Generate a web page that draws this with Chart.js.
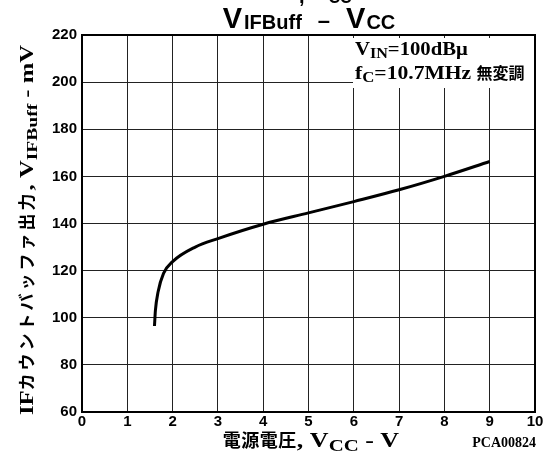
<!DOCTYPE html>
<html>
<head>
<meta charset="utf-8">
<script src="https://cdn.jsdelivr.net/npm/chart.js@4.4.1/dist/chart.umd.min.js"></script>
<style>
  html, body { margin: 0; padding: 0; background: #fff; }
  #chart { display: block; }
</style>
</head>
<body>
<canvas id="chart" width="551" height="457"></canvas>
<script>
// ── DATA ──────────────────────────────────────────────────────────────────────
const vccVolts   = [1.6, 1.62, 1.68, 1.8, 2.0, 2.5, 3.0, 4.0, 5.0, 6.0, 7.0, 8.0, 9.0];
const vifBuffMv  = [96.5, 103, 111, 118.8, 123.8, 130, 133.6, 139.7, 144.5, 149.3, 154.3, 160, 166.3];
const xTicks     = [0, 1, 2, 3, 4, 5, 6, 7, 8, 9, 10];
const yTicks     = [60, 80, 100, 120, 140, 160, 180, 200, 220];

// ── FONTS ─────────────────────────────────────────────────────────────────────
const SANS  = '"Liberation Sans", Arial, sans-serif';
const SERIF = '"Liberation Serif", "Noto Sans CJK JP", serif';
const JP    = '"Noto Sans CJK JP", sans-serif';

// width of one piece: sx stretches it, track spaces its characters
function partWidth(ctx, p) {
  ctx.font = p.font;
  const sx = p.sx || 1;
  if (p.track) {
    return [...p.t].reduce((w, c) => w + ctx.measureText(c).width * sx + p.track, 0);
  }
  return ctx.measureText(p.t).width * sx;
}

// draw a run of text pieces with their own fonts and baseline shifts
function richText(ctx, parts, x, y, align) {
  let total = 0;
  parts.forEach(p => { total += partWidth(ctx, p) + (p.gap || 0); });
  let cx = align === 'center' ? x - total / 2 : align === 'right' ? x - total : x;
  ctx.textAlign = 'left';
  ctx.textBaseline = 'alphabetic';
  parts.forEach(p => {
    ctx.font = p.font;
    const sx = p.sx || 1;
    const chars = p.track ? [...p.t] : [p.t];
    chars.forEach(c => {
      ctx.save();
      ctx.translate(cx, y + (p.dy || 0));
      ctx.scale(sx, 1);
      ctx.fillText(c, 0, 0);
      ctx.restore();
      cx += ctx.measureText(c).width * sx + (p.track || 0);
    });
    cx += p.gap || 0;
  });
}

// ── TEXT + FRAME PLUGIN ───────────────────────────────────────────────────────
const decorations = {
  id: 'decorations',
  beforeDatasetsDraw(chart) {
    const ctx = chart.ctx;
    ctx.save();
    // label box over the grid in the upper right
    ctx.fillStyle = '#fff';
    ctx.fillRect(353, 38, 181, 50);
    ctx.fillStyle = '#000';
    richText(ctx, [
      { t: 'V', font: `bold 18px ${SERIF}`, sx: 1.15 },
      { t: 'IN', font: `bold 14px ${SERIF}`, sx: 1.15, dy: 3 },
      { t: '=100dBμ', font: `bold 18px ${SERIF}`, sx: 1.15 }
    ], 355, 55, 'left');
    richText(ctx, [
      { t: 'f', font: `bold 18px ${SERIF}`, sx: 1.2 },
      { t: 'C', font: `bold 14px ${SERIF}`, sx: 1.2, dy: 3 },
      { t: '=10.7MHz ', font: `bold 18px ${SERIF}`, sx: 1.2 },
      { t: '無変調', font: `bold 16px ${JP}` }
    ], 355, 79, 'left');
    ctx.restore();
  },
  afterDraw(chart) {
    const ctx = chart.ctx;
    const a = chart.chartArea;
    ctx.save();
    ctx.strokeStyle = '#000';
    ctx.lineWidth = 2;
    ctx.strokeRect(a.left, a.top, a.right - a.left, a.bottom - a.top);
    ctx.fillStyle = '#000';

    // clipped line left over at the very top
    richText(ctx, [
      { t: ',', font: `bold 20px ${SANS}`, gap: 24 },
      { t: 'CC', font: `bold 16px ${SANS}` }
    ], 299, 3, 'left');

    // title
    richText(ctx, [
      { t: 'V', font: `bold 29px ${SANS}`, gap: 2 },
      { t: 'IFBuff', font: `bold 20px ${SANS}`, dy: 1, gap: 16 },
      { t: '–', font: `bold 22px ${SANS}`, gap: 16 },
      { t: 'V', font: `bold 29px ${SANS}`, gap: 1 },
      { t: 'CC', font: `bold 20px ${SANS}`, dy: 1 }
    ], 309, 28, 'center');

    // x axis title
    richText(ctx, [
      { t: '電源電圧', font: `bold 18px ${JP}`, track: 0.5 },
      { t: ', V', font: `bold 20px ${SERIF}`, sx: 1.3 },
      { t: 'CC', font: `bold 16px ${SERIF}`, sx: 1.3, dy: 4 },
      { t: ' - V', font: `bold 20px ${SERIF}`, sx: 1.3 }
    ], 311, 447, 'center');

    richText(ctx, [
      { t: 'PCA00824', font: `bold 14px ${SERIF}` }
    ], 536, 447, 'right');

    // y axis title
    ctx.translate(33, 230);
    ctx.rotate(-Math.PI / 2);
    richText(ctx, [
      { t: 'IF', font: `bold 19px ${SERIF}`, sx: 1.3 },
      { t: 'カウントバッファ出力', font: `bold 17px ${JP}`, track: 3 },
      { t: ', V', font: `bold 19px ${SERIF}`, sx: 1.3 },
      { t: 'IFBuff', font: `bold 15px ${SERIF}`, sx: 1.3, dy: 4 },
      { t: ' - mV', font: `bold 19px ${SERIF}`, sx: 1.3 }
    ], 0, 0, 'center');
    ctx.restore();
  }
};

// ── CHART ─────────────────────────────────────────────────────────────────────
const tickFont = { family: SANS, size: 15, weight: 'bold' };

new Chart(document.getElementById('chart'), {
  type: 'line',
  data: {
    datasets: [{
      data: vccVolts.map((v, i) => ({ x: v, y: vifBuffMv[i] })),
      borderColor: '#000',
      borderWidth: 3,
      pointRadius: 0,
      fill: false,
      cubicInterpolationMode: 'monotone'
    }]
  },
  options: {
    responsive: false,
    animation: false,
    events: [],
    layout: { padding: { top: 35, right: 16, left: 0, bottom: 0 } },
    plugins: { legend: { display: false }, tooltip: { enabled: false } },
    scales: {
      x: {
        type: 'linear',
        min: xTicks[0],
        max: xTicks[xTicks.length - 1],
        afterBuildTicks: s => { s.ticks = xTicks.map(v => ({ value: v })); },
        afterFit: s => { s.height = 45; },
        ticks: { color: '#000', font: tickFont, padding: 1, maxRotation: 0 },
        grid: { color: '#222', lineWidth: 1, drawTicks: false },
        border: { display: false }
      },
      y: {
        type: 'linear',
        min: yTicks[0],
        max: yTicks[yTicks.length - 1],
        afterBuildTicks: s => { s.ticks = yTicks.map(v => ({ value: v })); },
        afterFit: s => { s.width = 82; },
        ticks: { color: '#000', font: tickFont, padding: 5 },
        grid: { color: '#222', lineWidth: 1, drawTicks: false },
        border: { display: false }
      }
    }
  },
  plugins: [decorations]
});
</script>
</body>
</html>
